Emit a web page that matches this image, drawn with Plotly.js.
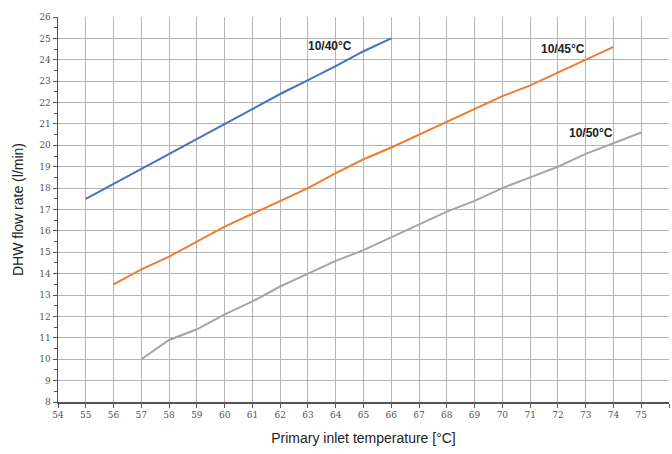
<!DOCTYPE html>
<html>
<head>
<meta charset="utf-8">
<script src="https://cdn.plot.ly/plotly-3.0.1.min.js"></script>
<style>html,body{margin:0;padding:0;background:#fff;}#chart{width:672px;height:454px;}</style>
</head>
<body>
<div id="chart"></div>
<script>
const x40 = [55, 56, 57, 58, 59, 60, 61, 62, 63, 64, 65, 66];
const y40 = [17.5, 18.2, 18.9, 19.6, 20.3, 21.0, 21.7, 22.4, 23.05, 23.7, 24.4, 25.0];
const x45 = [56, 57, 58, 59, 60, 61, 62, 63, 64, 65, 66, 67, 68, 69, 70, 71, 72, 73, 74];
const y45 = [13.5, 14.2, 14.8, 15.5, 16.2, 16.8, 17.4, 18.0, 18.7, 19.35, 19.9, 20.5, 21.1, 21.7, 22.3, 22.8, 23.4, 24.0, 24.6];
const x50 = [57, 58, 59, 60, 61, 62, 63, 64, 65, 66, 67, 68, 69, 70, 71, 72, 73, 74, 75];
const y50 = [10.0, 10.9, 11.4, 12.1, 12.7, 13.4, 14.0, 14.6, 15.1, 15.7, 16.3, 16.9, 17.4, 18.0, 18.5, 19.0, 19.6, 20.1, 20.6];
const seriesNames = ["10/40°C", "10/45°C", "10/50°C"];
const labelX = [63.8, 72.2, 73.2];
const labelY = [24.65, 24.5, 20.6];

const colors = ["#4472c4", "#ed7d31", "#a5a5a5"];
const xs = [x40, x45, x50], ys = [y40, y45, y50];
const traces = xs.map((x, i) => ({
  x: x, y: ys[i], type: "scatter", mode: "lines", name: seriesNames[i],
  line: {color: colors[i], width: 2}, hoverinfo: "skip"
}));
const annotations = seriesNames.map((n, i) => ({
  x: labelX[i], y: labelY[i], xref: "x", yref: "y", text: "<b>" + n + "</b>",
  showarrow: false, font: {family: "Liberation Sans Narrow, Liberation Sans, Arial", size: 12, color: "#222"}
}));
const layout = {
  width: 672, height: 454,
  margin: {l: 58, r: 3, t: 17, b: 52},
  paper_bgcolor: "#fff", plot_bgcolor: "#fff",
  showlegend: false,
  xaxis: {
    range: [54, 76], dtick: 1, tick0: 54, showgrid: true, gridcolor: "#b5b5b5", gridwidth: 1,
    zeroline: false, showline: true, linecolor: "#555", linewidth: 1.5,
    ticks: "outside", ticklen: 4, tickcolor: "#555",
    tickfont: {family: "DejaVu Serif, serif", size: 9, color: "#555"},
    title: {text: "Primary inlet temperature [°C]", font: {family: "Liberation Sans, Arial", size: 14, color: "#222"}, standoff: 14},
    mirror: false
  },
  yaxis: {
    range: [8, 26], dtick: 1, tick0: 8, showgrid: true, gridcolor: "#b5b5b5", gridwidth: 1,
    zeroline: false, showline: true, linecolor: "#555", linewidth: 1.5,
    ticks: "outside", ticklen: 4, tickcolor: "#555",
    minor: {dtick: 0.5, ticks: "outside", ticklen: 3, tickcolor: "#555", showgrid: false},
    tickfont: {family: "DejaVu Serif, serif", size: 9, color: "#555"},
    title: {text: "DHW flow rate (l/min)", font: {family: "Liberation Sans, Arial", size: 14, color: "#222"}, standoff: 12}
  },
  annotations: annotations
};
Plotly.newPlot("chart", traces, layout, {staticPlot: true, displayModeBar: false});
</script>
</body>
</html>
